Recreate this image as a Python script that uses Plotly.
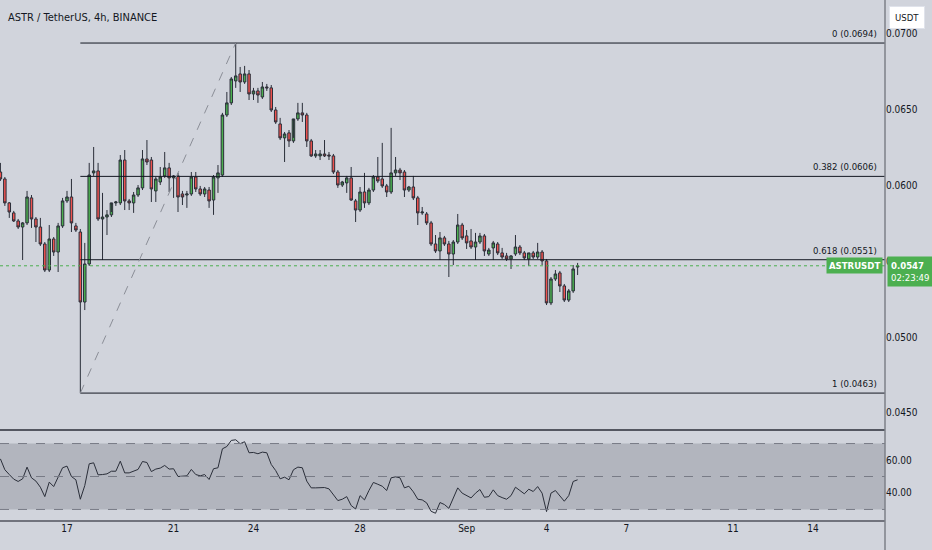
import pandas as pd
import plotly.graph_objects as go

# 4h candles, ASTR/USDT (Binance)
times = pd.date_range("2022-08-14 12:00", periods=131, freq="4h")

opens = [
    0.06089, 0.06043, 0.05885, 0.05819, 0.05766, 0.05726, 0.05753, 0.05918, 0.05779, 0.05726,
    0.05614, 0.05442, 0.05647, 0.05561, 0.05733, 0.05898, 0.05924, 0.05733, 0.05693, 0.05231,
    0.05482, 0.06083, 0.06096, 0.05779, 0.05792, 0.05806, 0.05885, 0.05885, 0.06168, 0.05898,
    0.05885, 0.05937, 0.05984, 0.06175, 0.06168, 0.05964, 0.06023, 0.06063, 0.06116, 0.06050,
    0.06063, 0.05944, 0.05937, 0.05944, 0.06056, 0.05977, 0.05944, 0.05970, 0.05904, 0.06050,
    0.06069, 0.06465, 0.06545, 0.06690, 0.06736, 0.06683, 0.06736, 0.06604, 0.06624, 0.06584,
    0.06650, 0.06644, 0.06498, 0.06406, 0.06314, 0.06347, 0.06294, 0.06439, 0.06479, 0.06465,
    0.06294, 0.06195, 0.06195, 0.06208, 0.06201, 0.06195, 0.06089, 0.06003, 0.06017, 0.06050,
    0.05898, 0.05838, 0.05957, 0.05885, 0.05970, 0.06056, 0.06043, 0.05997, 0.05957, 0.06083,
    0.06102, 0.06089, 0.05970, 0.05990, 0.05918, 0.05819, 0.05812, 0.05753, 0.05614, 0.05568,
    0.05654, 0.05614, 0.05548, 0.05627, 0.05739, 0.05667, 0.05634, 0.05594, 0.05627, 0.05667,
    0.05548, 0.05588, 0.05614, 0.05555, 0.05535, 0.05515, 0.05548, 0.05594, 0.05555, 0.05515,
    0.05555, 0.05528, 0.05561, 0.05502, 0.05225, 0.05383, 0.05423, 0.05337, 0.05244, 0.05304,
    0.05462,
]
highs = [
    0.06149, 0.06056, 0.05891, 0.05832, 0.05779, 0.05759, 0.05964, 0.05937, 0.05792, 0.05786,
    0.05627, 0.05739, 0.05660, 0.05753, 0.05918, 0.05964, 0.06043, 0.05753, 0.05713, 0.05621,
    0.06149, 0.06254, 0.06149, 0.05951, 0.05838, 0.05825, 0.05898, 0.06201, 0.06234, 0.05911,
    0.05957, 0.06003, 0.06234, 0.06300, 0.06188, 0.06056, 0.06122, 0.06221, 0.06149, 0.06069,
    0.06083, 0.05964, 0.05964, 0.06089, 0.06089, 0.05997, 0.05990, 0.05990, 0.06069, 0.06135,
    0.06479, 0.06617, 0.06716, 0.06941, 0.06782, 0.06789, 0.06762, 0.06644, 0.06644, 0.06683,
    0.06670, 0.06663, 0.06518, 0.06446, 0.06353, 0.06366, 0.06314, 0.06545, 0.06545, 0.06479,
    0.06307, 0.06234, 0.06234, 0.06300, 0.06221, 0.06208, 0.06102, 0.06030, 0.06063, 0.06122,
    0.05911, 0.05990, 0.06083, 0.05984, 0.06069, 0.06188, 0.06281, 0.06010, 0.06380, 0.06188,
    0.06116, 0.06102, 0.05997, 0.06063, 0.05931, 0.05858, 0.05825, 0.05766, 0.05673, 0.05693,
    0.05667, 0.05634, 0.05640, 0.05812, 0.05753, 0.05706, 0.05713, 0.05687, 0.05687, 0.05680,
    0.05588, 0.05634, 0.05627, 0.05588, 0.05555, 0.05541, 0.05673, 0.05607, 0.05568, 0.05555,
    0.05568, 0.05621, 0.05574, 0.05515, 0.05396, 0.05442, 0.05436, 0.05350, 0.05317, 0.05475,
    0.05489,
]
lows = [
    0.06030, 0.05865, 0.05786, 0.05759, 0.05713, 0.05508, 0.05739, 0.05720, 0.05627, 0.05601,
    0.05429, 0.05429, 0.05535, 0.05429, 0.05720, 0.05885, 0.05693, 0.05693, 0.04630, 0.05178,
    0.05469, 0.06063, 0.05766, 0.05508, 0.05673, 0.05792, 0.05865, 0.05871, 0.05838, 0.05838,
    0.05819, 0.05924, 0.05970, 0.06135, 0.05891, 0.05891, 0.06003, 0.06050, 0.05957, 0.05918,
    0.05825, 0.05871, 0.05852, 0.05931, 0.05957, 0.05931, 0.05924, 0.05852, 0.05806, 0.05951,
    0.06056, 0.06452, 0.06531, 0.06644, 0.06617, 0.06670, 0.06564, 0.06564, 0.06545, 0.06571,
    0.06624, 0.06485, 0.06406, 0.06300, 0.06155, 0.06254, 0.06281, 0.06426, 0.06419, 0.06254,
    0.06188, 0.06182, 0.06168, 0.06188, 0.06168, 0.06076, 0.05984, 0.05990, 0.05951, 0.05898,
    0.05759, 0.05825, 0.05852, 0.05871, 0.05957, 0.06017, 0.05984, 0.05924, 0.05944, 0.06063,
    0.06036, 0.05924, 0.05957, 0.05904, 0.05739, 0.05806, 0.05739, 0.05601, 0.05555, 0.05508,
    0.05601, 0.05396, 0.05475, 0.05614, 0.05640, 0.05581, 0.05581, 0.05508, 0.05614, 0.05535,
    0.05535, 0.05508, 0.05541, 0.05515, 0.05502, 0.05449, 0.05535, 0.05541, 0.05508, 0.05469,
    0.05515, 0.05515, 0.05475, 0.05211, 0.05211, 0.05370, 0.05297, 0.05231, 0.05231, 0.05291,
    0.05409,
]
closes = [
    0.06043, 0.05885, 0.05825, 0.05766, 0.05726, 0.05753, 0.05924, 0.05779, 0.05726, 0.05614,
    0.05442, 0.05647, 0.05561, 0.05733, 0.05898, 0.05924, 0.05753, 0.05706, 0.05231, 0.05482,
    0.06069, 0.06096, 0.05779, 0.05792, 0.05806, 0.05885, 0.05891, 0.06168, 0.05898, 0.05885,
    0.05937, 0.05984, 0.06175, 0.06155, 0.05977, 0.06043, 0.06056, 0.06116, 0.06050, 0.06063,
    0.05924, 0.05924, 0.05944, 0.06056, 0.05977, 0.05944, 0.05977, 0.05898, 0.06056, 0.06083,
    0.06465, 0.06545, 0.06703, 0.06723, 0.06683, 0.06736, 0.06604, 0.06624, 0.06597, 0.06650,
    0.06644, 0.06498, 0.06419, 0.06314, 0.06340, 0.06294, 0.06439, 0.06479, 0.06465, 0.06294,
    0.06195, 0.06208, 0.06208, 0.06195, 0.06195, 0.06089, 0.06003, 0.06023, 0.06050, 0.05904,
    0.05838, 0.05957, 0.05885, 0.05970, 0.06056, 0.06030, 0.05997, 0.05957, 0.06083, 0.06102,
    0.06083, 0.05970, 0.05990, 0.05918, 0.05819, 0.05825, 0.05753, 0.05614, 0.05568, 0.05654,
    0.05614, 0.05548, 0.05627, 0.05739, 0.05654, 0.05621, 0.05594, 0.05627, 0.05667, 0.05568,
    0.05574, 0.05621, 0.05555, 0.05528, 0.05515, 0.05535, 0.05594, 0.05555, 0.05522, 0.05555,
    0.05528, 0.05561, 0.05502, 0.05225, 0.05383, 0.05416, 0.05337, 0.05244, 0.05304, 0.05449,
    0.05470,
]

rsi = [
    60.7, 54.1, 51.2, 48.4, 47.0, 48.6, 55.7, 49.2, 47.2, 43.5,
    37.8, 46.6, 43.9, 49.6, 55.3, 56.3, 50.0, 48.0, 36.2, 44.5,
    57.7, 58.3, 51.0, 51.2, 51.6, 53.2, 53.2, 59.3, 52.2, 52.2,
    53.2, 54.3, 59.1, 58.5, 53.0, 54.5, 55.1, 56.7, 54.5, 54.7,
    50.0, 50.4, 50.4, 54.3, 51.2, 50.4, 51.2, 48.2, 54.7, 55.3,
    66.8, 68.2, 71.9, 72.3, 69.9, 71.1, 64.4, 64.6, 63.8, 64.8,
    64.4, 57.3, 53.6, 48.6, 49.6, 48.0, 54.1, 55.7, 55.3, 47.2,
    43.1, 43.1, 43.3, 43.3, 42.5, 39.1, 35.4, 36.2, 37.8, 32.4,
    30.3, 38.4, 35.8, 41.5, 46.4, 45.3, 44.1, 41.5, 49.2, 49.8,
    49.2, 43.1, 44.1, 40.7, 36.2, 35.8, 34.0, 28.9, 27.7, 34.2,
    33.0, 30.7, 37.0, 43.1, 39.9, 38.4, 37.0, 39.9, 42.1, 37.4,
    37.8, 41.9, 38.4, 37.2, 36.2, 38.4, 43.5, 41.5, 39.5, 42.3,
    40.9, 43.9, 39.9, 28.7, 39.9, 41.5, 38.4, 35.0, 38.4, 47.0,
    48.0,
]

fib_levels = [0.0694, 0.0606, 0.0551, 0.0463]
fib_labels = ["0 (0.0694)", "0.382 (0.0606)", "0.618 (0.0551)", "1 (0.0463)"]
price_ticks = [0.0450, 0.0500, 0.0550, 0.0600, 0.0650, 0.0700]
rsi_ticks = [40, 60]
rsi_bands = [30, 50, 70]
date_ticks = ["2022-08-17", "2022-08-21", "2022-08-24", "2022-08-28", "2022-09-01",
              "2022-09-04", "2022-09-07", "2022-09-11", "2022-09-14"]
date_labels = ["17", "21", "24", "28", "Sep", "4", "7", "11", "14"]
last_price = 0.0547
countdown = "02:23:49"

BG = "#d1d4dc"
INK = "#131722"
GREEN = "#4caf50"
RED = "#ef5350"
FONT = "DejaVu Sans Condensed, DejaVu Sans, sans-serif"
x_range = ["2022-08-14 11:38", "2022-09-16 16:55"]
fib_start = times[18]   # swing low candle
swing_high = times[53]  # swing high candle

fig = go.Figure()

fig.add_trace(go.Candlestick(
    x=times, open=opens, high=highs, low=lows, close=closes,
    increasing=dict(fillcolor=GREEN, line=dict(color="#2a2e39", width=1)),
    decreasing=dict(fillcolor=RED, line=dict(color="#2a2e39", width=1)),
    whiskerwidth=0, yaxis="y", hoverinfo="skip",
))

fig.add_trace(go.Scatter(
    x=times, y=rsi, mode="lines", yaxis="y2",
    line=dict(color="#2a2e39", width=1), hoverinfo="skip",
))

shapes = []
# rsi band and its dashed levels
shapes.append(dict(type="rect", xref="paper", yref="y2", x0=0, x1=1, y0=30, y1=70,
                   fillcolor="#b2b5be", line=dict(width=0), layer="below"))
for lvl in rsi_bands:
    shapes.append(dict(type="line", xref="paper", yref="y2", x0=0, x1=1, y0=lvl, y1=lvl,
                       line=dict(color="#787b86", width=1, dash="dash")))

# fibonacci levels
for lvl in fib_levels:
    shapes.append(dict(type="line", xref="x", yref="y", x0=fib_start, x1=x_range[1],
                       y0=lvl, y1=lvl, line=dict(color=INK, width=1)))

# trend line from swing low to swing high
shapes.append(dict(type="line", xref="x", yref="y", x0=fib_start, y0=lows[18],
                   x1=swing_high, y1=highs[53],
                   line=dict(color="#8b8e97", width=1, dash="dash")))

# last price
shapes.append(dict(type="line", xref="paper", yref="y", x0=0, x1=1,
                   y0=last_price, y1=last_price,
                   line=dict(color=GREEN, width=1, dash="dot")))

# pane separators and price scale border
shapes.append(dict(type="line", xref="paper", yref="paper", x0=0, x1=1, y0=0.1747, y1=0.1747,
                   line=dict(color="#2a2e39", width=1.5)))
shapes.append(dict(type="line", xref="paper", yref="paper", x0=0, x1=1, y0=0, y1=0,
                   line=dict(color="#50535e", width=1.5)))
shapes.append(dict(type="line", xref="paper", yref="paper", x0=1, x1=1, y0=-0.06, y1=1,
                   line=dict(color="#7d8089", width=1.5)))

annotations = []
annotations.append(dict(text="ASTR / TetherUS, 4h, BINANCE", xref="paper", yref="paper",
                        x=0.007, y=0.967, xanchor="left", yanchor="middle", showarrow=False,
                        font=dict(size=11, color=INK)))
for lvl, lab in zip(fib_levels, fib_labels):
    annotations.append(dict(text=lab, xref="paper", yref="y", x=0.993, y=lvl,
                            xanchor="right", yanchor="bottom", yshift=2, showarrow=False,
                            font=dict(size=9.5, color=INK)))
annotations.append(dict(text="<b>ASTRUSDT</b>", xref="paper", yref="y", x=0.998, y=last_price,
                        xanchor="right", yanchor="middle", showarrow=False,
                        bgcolor=GREEN, borderpad=2, font=dict(size=9.5, color="white")))
annotations.append(dict(text=f"<b>{last_price:.4f}</b><br>{countdown}", xref="paper", yref="y",
                        x=1.002, y=last_price, xanchor="left", yanchor="top", yshift=10,
                        showarrow=False, align="left", bgcolor=GREEN, borderpad=3,
                        font=dict(size=9.5, color="white")))
annotations.append(dict(text="USDT", xref="paper", yref="paper", x=1.025, y=0.967,
                        xanchor="center", yanchor="middle", showarrow=False,
                        bgcolor="white", bordercolor="#e0e3eb", borderpad=5,
                        font=dict(size=9.5, color=INK)))

fig.update_layout(
    width=932, height=550,
    margin=dict(l=0, r=47, t=0, b=29),
    paper_bgcolor=BG, plot_bgcolor=BG,
    showlegend=False,
    boxgap=0.2,
    font=dict(family=FONT, color=INK),
    xaxis=dict(type="date", range=x_range, anchor="y2", tickvals=date_ticks,
               ticktext=date_labels, showgrid=False, zeroline=False, showline=False,
               ticks="", tickfont=dict(size=10, color=INK), rangeslider=dict(visible=False)),
    yaxis=dict(domain=[0.1766, 1], range=[0.04393, 0.07224], side="right",
               tickvals=price_ticks, tickformat=".4f", showgrid=False, zeroline=False,
               ticks="", tickfont=dict(size=10, color=INK)),
    yaxis2=dict(domain=[0, 0.1727], range=[23.0, 77.6], side="right", anchor="x",
                tickvals=rsi_ticks, tickformat=".2f", showgrid=False, zeroline=False,
                ticks="", tickfont=dict(size=10, color=INK)),
    shapes=shapes,
    annotations=annotations,
)

# drop the page's default body margin so the figure fills the window
fig.write_html("out.html", config={"displayModeBar": False},
               post_script="document.body.style.margin='0';")
